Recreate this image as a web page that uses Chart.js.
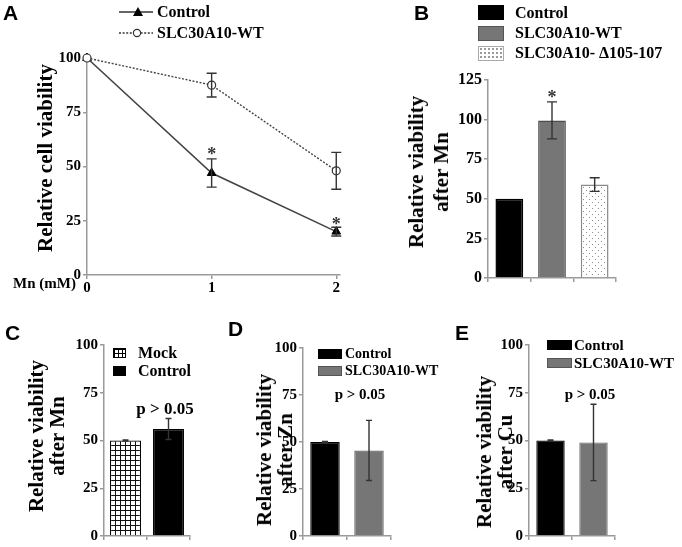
<!DOCTYPE html>
<html>
<head>
<meta charset="utf-8">
<script src="https://cdn.jsdelivr.net/npm/chart.js@4.4.1/dist/chart.umd.min.js"></script>
<style>
body { margin: 0; background: #fff; }
#fig { position: relative; width: 682px; height: 547px; overflow: hidden; background: #fff;
       font-family: "Liberation Serif", "Times New Roman", serif; font-weight: bold; color: #000; }
#fig canvas { position: absolute; left: 0; top: 0; }
.txt { position: absolute; white-space: nowrap; }
.letter { position: absolute; font-family: "Liberation Sans", Arial, sans-serif; font-weight: bold;
          font-size: 21px; line-height: 21px; }
.ytitle { position: absolute; white-space: nowrap; text-align: center; font-size: 21px; line-height: 23px;
          transform: translate(-50%, -50%) rotate(-90deg); }
.sw { position: absolute; box-sizing: border-box; }
.sw-black { background: #000; }
.sw-gray { background: #767676; border: 1px solid #555; }
.sw-dots { background-color: #fff; border: 1px solid #aaa;
           background-image: radial-gradient(#999 0.7px, transparent 1.1px); background-size: 4px 4px; }
.sw-grid { background-color: #fff; border: 1px solid #000;
           background-image: linear-gradient(#000 1px, transparent 1px), linear-gradient(90deg, #000 1px, transparent 1px);
           background-size: 4px 4px; }
</style>
</head>
<body>
<div id="fig">
  <canvas id="chartA" width="682" height="547"></canvas>
  <canvas id="chartB" width="682" height="547"></canvas>
  <canvas id="chartC" width="682" height="547"></canvas>
  <canvas id="chartD" width="682" height="547"></canvas>
  <canvas id="chartE" width="682" height="547"></canvas>

  <!-- panel letters -->
  <div class="letter" style="left:3px;top:2px">A</div>
  <div class="letter" style="left:414px;top:2px">B</div>
  <div class="letter" style="left:5px;top:322px">C</div>
  <div class="letter" style="left:228px;top:318px">D</div>
  <div class="letter" style="left:455px;top:322px">E</div>

  <!-- A legend -->
  <svg style="position:absolute;left:116px;top:2px" width="42" height="42">
    <line x1="3" y1="10" x2="37" y2="10" stroke="#333" stroke-width="1.6"/>
    <polygon points="17,14 22,5 27,14" fill="#000"/>
    <line x1="3" y1="31" x2="37" y2="31" stroke="#333" stroke-width="1.4" stroke-dasharray="2,1.6"/>
    <circle cx="21" cy="31" r="3.6" fill="#fff" stroke="#333" stroke-width="1.2"/>
  </svg>
  <div class="txt" style="left:157px;top:4px;font-size:16px;line-height:16px">Control</div>
  <div class="txt" style="left:157px;top:25px;font-size:16px;line-height:16px">SLC30A10-WT</div>
  <div class="txt" style="left:13px;top:275px;font-size:15px;line-height:16px">Mn (mM)</div>
  <div class="ytitle" style="left:45px;top:158px">Relative cell viability</div>

  <!-- B legend -->
  <div class="sw sw-black" style="left:478px;top:5px;width:26px;height:15px"></div>
  <div class="sw sw-gray" style="left:478px;top:26px;width:26px;height:15px"></div>
  <div class="sw sw-dots" style="left:478px;top:46px;width:26px;height:15px"></div>
  <div class="txt" style="left:515px;top:5px;font-size:16px;line-height:16px">Control</div>
  <div class="txt" style="left:515px;top:25px;font-size:16px;line-height:16px">SLC30A10-WT</div>
  <div class="txt" style="left:515px;top:45px;font-size:16px;line-height:16px">SLC30A10- Δ105-107</div>
  <div class="ytitle" style="left:429px;top:172px;line-height:25px">Relative viability<br>after Mn</div>

  <!-- C legend -->
  <div class="sw sw-grid" style="left:113px;top:348px;width:13px;height:10px"></div>
  <div class="sw sw-black" style="left:113px;top:366px;width:13px;height:10px"></div>
  <div class="txt" style="left:138px;top:345px;font-size:16px;line-height:16px">Mock</div>
  <div class="txt" style="left:138px;top:363px;font-size:16px;line-height:16px">Control</div>
  <div class="txt" style="left:165px;top:400px;font-size:17px;line-height:17px;transform:translateX(-50%)">p &gt; 0.05</div>
  <div class="ytitle" style="left:47px;top:436px;line-height:21px">Relative viability<br>after Mn</div>

  <!-- D legend -->
  <div class="sw sw-black" style="left:318px;top:349px;width:24px;height:10px"></div>
  <div class="sw sw-gray" style="left:318px;top:366px;width:24px;height:10px"></div>
  <div class="txt" style="left:345px;top:347px;font-size:14px;line-height:14px">Control</div>
  <div class="txt" style="left:345px;top:364px;font-size:14px;line-height:14px">SLC30A10-WT</div>
  <div class="txt" style="left:360px;top:387px;font-size:15px;line-height:15px;transform:translateX(-50%)">p &gt; 0.05</div>
  <div class="ytitle" style="left:275px;top:450px;line-height:21px">Relative viability<br>after Zn</div>

  <!-- E legend -->
  <div class="sw sw-black" style="left:547px;top:340px;width:25px;height:10px"></div>
  <div class="sw sw-gray" style="left:547px;top:358px;width:25px;height:10px"></div>
  <div class="txt" style="left:574px;top:338px;font-size:15px;line-height:15px">Control</div>
  <div class="txt" style="left:574px;top:356px;font-size:15px;line-height:15px">SLC30A10-WT</div>
  <div class="txt" style="left:590px;top:387px;font-size:15px;line-height:15px;transform:translateX(-50%)">p &gt; 0.05</div>
  <div class="ytitle" style="left:495px;top:452px;line-height:21px">Relative viability<br>after Cu</div>
</div>

<script>
// ---- data ----
const doseA = [0, 1, 2];
const controlA = [100, 47, 20];
const controlErrA = [0, 6.5, 2];
const controlStarsA = [null, 57, 25];
const wtA = [100, 87.5, 48];
const wtErrA = [0, 5.5, 8.5];
const doseTicks = [0, 1, 2];

const catsB = ['Control', 'SLC30A10-WT', 'SLC30A10- Δ105-107'];
const valuesB = [50, 99.5, 59];
const errB = [0, 11.7, 4.3];
const starsB = [null, 116, null];
const ticksB = [0, 25, 50, 75, 100, 125];

const catsC = ['Mock', 'Control'];
const valuesC = [50, 56];
const errC = [0.3, 5.5];

const catsD = ['Control', 'SLC30A10-WT'];
const valuesD = [50, 45.5];
const errD = [0.3, 16];

const catsE = ['Control', 'SLC30A10-WT'];
const valuesE = [50, 49];
const errE = [0.3, 20];

const ticks100 = [0, 25, 50, 75, 100];

// ---- helpers ----
const W = 682, H = 547;
const AXIS = '#9a9a9a';
const SERIF = '"Liberation Serif", "Times New Roman", serif';

function dotPattern() {
    const c = document.createElement('canvas'); c.width = 6; c.height = 6;
    const g = c.getContext('2d');
    g.fillStyle = '#fff'; g.fillRect(0, 0, 6, 6);
    g.fillStyle = '#8c8c8c';
    g.fillRect(1, 1, 1, 1); g.fillRect(4, 4, 1, 1);
    return g.createPattern(c, 'repeat');
}

function gridPattern() {
    const c = document.createElement('canvas'); c.width = 5; c.height = 5;
    const g = c.getContext('2d');
    g.fillStyle = '#fff'; g.fillRect(0, 0, 5, 5);
    g.fillStyle = '#111';
    g.fillRect(0, 0, 5, 1); g.fillRect(0, 0, 1, 5);
    return g.createPattern(c, 'repeat');
}

// error bars + significance stars, read from the dataset
const errorBars = {
    id: 'errorBars',
    afterDatasetsDraw(chart) {
        const ctx = chart.ctx, y = chart.scales.y;
        chart.data.datasets.forEach((ds, i) => {
            const meta = chart.getDatasetMeta(i);
            meta.data.forEach((el, j) => {
                const v = typeof ds.data[j] === 'object' ? ds.data[j].y : ds.data[j];
                const e = ds.errors ? ds.errors[j] : 0;
                ctx.save();
                if (e) {
                    const top = y.getPixelForValue(v + e), bot = y.getPixelForValue(v - e);
                    const cap = ds.capWidth || 4;
                    ctx.strokeStyle = ds.errorColor || '#333';
                    ctx.lineWidth = 1.4;
                    ctx.beginPath();
                    ctx.moveTo(el.x, top); ctx.lineTo(el.x, bot);
                    ctx.moveTo(el.x - cap, top); ctx.lineTo(el.x + cap, top);
                    ctx.moveTo(el.x - cap, bot); ctx.lineTo(el.x + cap, bot);
                    ctx.stroke();
                }
                if (ds.stars && ds.stars[j] != null) {
                    ctx.fillStyle = '#333';
                    ctx.font = 'bold 18px ' + SERIF;
                    ctx.textAlign = 'center';
                    ctx.textBaseline = 'alphabetic';
                    ctx.fillText('*', el.x, y.getPixelForValue(ds.stars[j]) + 9);
                }
                ctx.restore();
            });
        });
    }
};

function yAxis(min, max, tickList, fontSize) {
    return {
        min: min, max: max,
        afterBuildTicks: s => { s.ticks = tickList.map(v => ({ value: v })); },
        afterFit: s => { s.width = 40; },
        border: { color: AXIS, width: 1.5 },
        grid: { drawOnChartArea: false, color: AXIS, lineWidth: 1.5, tickLength: 4 },
        ticks: { color: '#000', padding: 2, font: { family: SERIF, weight: 'bold', size: fontSize } }
    };
}

function barXAxis(xH) {
    return {
        type: 'category',
        offset: true,
        afterFit: s => { s.height = xH; },
        border: { color: AXIS, width: 1.5 },
        grid: { drawOnChartArea: false, offset: true, color: AXIS, lineWidth: 1.5, tickLength: 4 },
        ticks: { display: false }
    };
}

function padFor(area, xH) {
    return { left: area.l - 40, top: area.t, right: W - area.r, bottom: H - area.b - xH };
}

const common = {
    responsive: false,
    animation: false,
    plugins: { legend: { display: false }, tooltip: { enabled: false } }
};

// ---- panel A ----
const areaA = { l: 87, t: 58, r: 340, b: 275 };
new Chart(document.getElementById('chartA'), {
    type: 'line',
    data: {
        datasets: [
            {
                label: 'SLC30A10-WT',
                data: doseA.map((d, i) => ({ x: d, y: wtA[i] })),
                errors: wtErrA, capWidth: 5,
                borderColor: '#444', borderWidth: 1.4, borderDash: [2, 1.6],
                pointStyle: 'circle', pointRadius: 4, pointBackgroundColor: '#fff',
                pointBorderColor: '#333', pointBorderWidth: 1.2, clip: false
            },
            {
                label: 'Control',
                data: doseA.map((d, i) => ({ x: d, y: controlA[i] })),
                errors: controlErrA, stars: controlStarsA, capWidth: 5,
                borderColor: '#444', borderWidth: 1.6,
                pointStyle: 'triangle', pointRadius: 5, pointBackgroundColor: '#000',
                pointBorderColor: '#000', pointBorderWidth: 1, clip: false
            }
        ]
    },
    options: Object.assign({}, common, {
        layout: { padding: padFor(areaA, 20) },
        scales: {
            x: {
                type: 'linear', min: 0, max: 2.03,
                afterBuildTicks: s => { s.ticks = doseTicks.map(v => ({ value: v })); },
                afterFit: s => { s.height = 20; },
                border: { color: AXIS, width: 1.5 },
                grid: { drawOnChartArea: false, color: AXIS, lineWidth: 1.5, tickLength: 4 },
                ticks: { color: '#000', padding: 0, maxRotation: 0, font: { family: SERIF, weight: 'bold', size: 15 } }
            },
            y: yAxis(0, 100, ticks100, 15)
        }
    }),
    plugins: [errorBars]
});

// ---- panel B ----
const areaB = { l: 488, t: 80, r: 616, b: 278 };
new Chart(document.getElementById('chartB'), {
    type: 'bar',
    data: {
        labels: catsB,
        datasets: [{
            data: valuesB, errors: errB, stars: starsB, capWidth: 5,
            backgroundColor: ['#000', '#767676', dotPattern()],
            borderColor: ['#000', '#4d4d4d', '#8a8a8a'],
            borderWidth: 1.5,
            barPercentage: 0.65, categoryPercentage: 1
        }]
    },
    options: Object.assign({}, common, {
        layout: { padding: padFor(areaB, 8) },
        scales: { x: barXAxis(8), y: yAxis(0, 125, ticksB, 16) }
    }),
    plugins: [errorBars]
});

// ---- panels C, D, E ----
function smallBars(id, area, cats, values, errs, fills, borders, pct) {
    new Chart(document.getElementById(id), {
        type: 'bar',
        data: {
            labels: cats,
            datasets: [{
                data: values, errors: errs, capWidth: 3,
                backgroundColor: fills, borderColor: borders, borderWidth: 1.2,
                barPercentage: pct, categoryPercentage: 1
            }]
        },
        options: Object.assign({}, common, {
            layout: { padding: padFor(area, 8) },
            scales: { x: barXAxis(8), y: yAxis(0, 100, ticks100, 15) }
        }),
        plugins: [errorBars]
    });
}

smallBars('chartC', { l: 104, t: 345, r: 190, b: 536 }, catsC, valuesC, errC,
    [gridPattern(), '#000'], ['#000', '#000'], 0.72);
smallBars('chartD', { l: 303, t: 348, r: 391, b: 536 }, catsD, valuesD, errD,
    ['#000', '#767676'], ['#000', '#666'], 0.67);
smallBars('chartE', { l: 529, t: 345, r: 615, b: 538 }, catsE, valuesE, errE,
    ['#000', '#767676'], ['#000', '#666'], 0.66);
</script>
</body>
</html>
